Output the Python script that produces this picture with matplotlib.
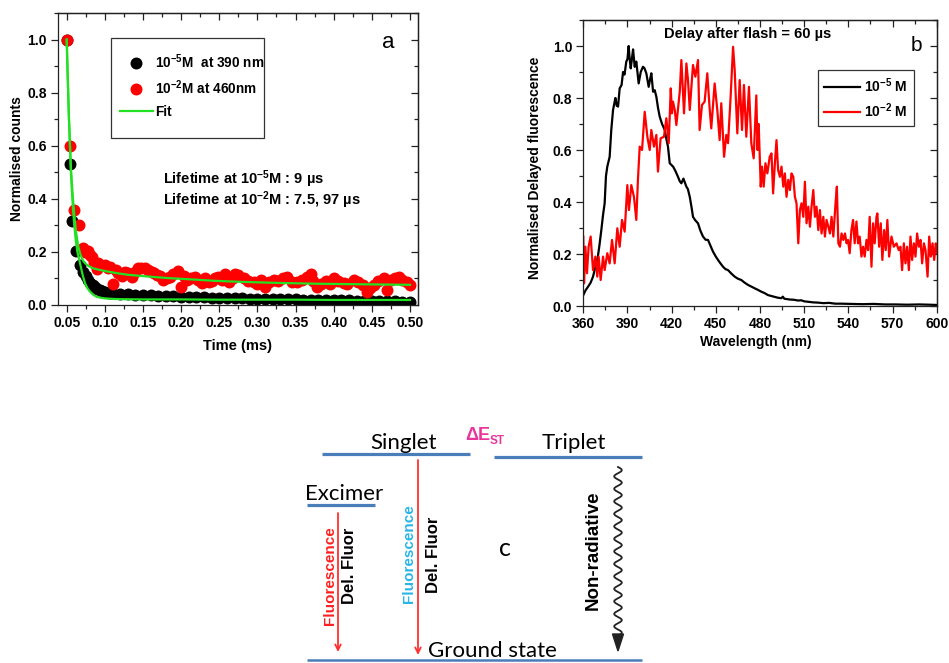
import numpy as np
import matplotlib
matplotlib.use('Agg')
import matplotlib.pyplot as plt
from matplotlib.lines import Line2D
from matplotlib.patches import Rectangle, Polygon
from matplotlib.ticker import MultipleLocator, FormatStrFormatter

plt.rcParams['font.family'] = ['Liberation Sans', 'DejaVu Sans']
plt.rcParams['font.weight'] = 'bold'
plt.rcParams['mathtext.fontset'] = 'custom'
plt.rcParams['mathtext.rm'] = 'Liberation Sans:bold'
plt.rcParams['mathtext.it'] = 'Liberation Sans:bold'
plt.rcParams['mathtext.bf'] = 'Liberation Sans:bold'
plt.rcParams['axes.linewidth'] = 0.9

# ---------------- Panel a data ----------------
black_t = [0.050, 0.0543, 0.0566, 0.0622, 0.0675, 0.0718, 0.075, 0.078, 0.081, 0.084,
           0.087, 0.090, 0.093, 0.096, 0.100, 0.105, 0.110, 0.120, 0.130, 0.140,
           0.150, 0.160, 0.170, 0.180, 0.190, 0.200, 0.210, 0.220, 0.230, 0.240,
           0.250, 0.260, 0.270, 0.280, 0.290, 0.300, 0.310, 0.320, 0.330, 0.340,
           0.350, 0.360, 0.370, 0.380, 0.390, 0.400, 0.410, 0.420, 0.430, 0.440,
           0.450, 0.460, 0.470, 0.480, 0.490, 0.500]
black_v = [1.0, 0.532, 0.318, 0.205, 0.151, 0.124, 0.108, 0.094, 0.083, 0.074,
           0.067, 0.061, 0.056, 0.052, 0.048, 0.046, 0.044, 0.042, 0.040, 0.039,
           0.038, 0.036, 0.035, 0.034, 0.033, 0.032, 0.031, 0.030, 0.029, 0.028,
           0.027, 0.026, 0.026, 0.025, 0.024, 0.024, 0.023, 0.022, 0.022, 0.021,
           0.021, 0.020, 0.019, 0.019, 0.018, 0.018, 0.017, 0.017, 0.016, 0.016,
           0.015, 0.015, 0.014, 0.014, 0.013, 0.012]

red_t = [0.050, 0.0543, 0.0596, 0.0661, 0.0718, 0.074, 0.0784, 0.081, 0.0828, 0.086,
         0.0894, 0.0915, 0.095, 0.1003, 0.104, 0.1068, 0.1112, 0.114, 0.1177, 0.122,
         0.1265, 0.131, 0.1353, 0.140, 0.144, 0.148, 0.1528, 0.157, 0.1615, 0.165,
         0.1681, 0.172, 0.1768, 0.181, 0.1856, 0.190, 0.1956, 0.200, 0.204, 0.2075,
         0.213, 0.2184, 0.222, 0.2272, 0.231, 0.2359, 0.241, 0.245, 0.2489, 0.254,
         0.258, 0.2621, 0.268, 0.270, 0.2752, 0.282, 0.288, 0.2949, 0.300, 0.305,
         0.3102, 0.315, 0.3211, 0.327, 0.333, 0.3387, 0.345, 0.3518, 0.358, 0.3649,
         0.370, 0.373, 0.378, 0.384, 0.390, 0.395, 0.3999, 0.405, 0.413, 0.418,
         0.4261, 0.432, 0.438, 0.4437, 0.448, 0.4524, 0.458, 0.4655, 0.4699, 0.475,
         0.480, 0.4852, 0.490, 0.4962, 0.5005]
red_v = [1.0, 0.600, 0.357, 0.303, 0.214, 0.200, 0.205, 0.190, 0.182, 0.160,
         0.134, 0.157, 0.150, 0.151, 0.140, 0.145, 0.079, 0.130, 0.120, 0.110,
         0.126, 0.120, 0.107, 0.125, 0.138, 0.140, 0.138, 0.130, 0.126, 0.120,
         0.113, 0.110, 0.094, 0.100, 0.107, 0.115, 0.129, 0.067, 0.110, 0.094,
         0.100, 0.104, 0.095, 0.082, 0.100, 0.088, 0.090, 0.100, 0.107, 0.095,
         0.115, 0.088, 0.100, 0.115, 0.113, 0.100, 0.090, 0.088, 0.080, 0.095,
         0.069, 0.085, 0.094, 0.090, 0.100, 0.107, 0.085, 0.088, 0.095, 0.107,
         0.115, 0.090, 0.069, 0.080, 0.090, 0.080, 0.101, 0.090, 0.082, 0.080,
         0.094, 0.085, 0.075, 0.050, 0.065, 0.075, 0.090, 0.101, 0.057, 0.095,
         0.100, 0.107, 0.095, 0.088, 0.075]

fit5_t = [0.050, 0.051, 0.052, 0.053, 0.0543, 0.0555, 0.057, 0.0585, 0.060, 0.062,
          0.064, 0.0675, 0.071, 0.074, 0.0775, 0.0806, 0.085, 0.0894, 0.095, 0.100,
          0.110, 0.120, 0.150, 0.200, 0.250, 0.300, 0.350, 0.400, 0.450, 0.500]
fit5_v = [1.0, 0.90, 0.80, 0.70, 0.60, 0.50, 0.42, 0.35, 0.30, 0.24,
          0.20, 0.157, 0.112, 0.082, 0.062, 0.050, 0.038, 0.031, 0.027, 0.025,
          0.023, 0.022, 0.021, 0.021, 0.020, 0.020, 0.020, 0.019, 0.019, 0.019]

fit2_t = [0.050, 0.051, 0.052, 0.053, 0.0543, 0.0555, 0.057, 0.0585, 0.060, 0.062,
          0.0652, 0.068, 0.0718, 0.075, 0.078, 0.0849, 0.092, 0.100, 0.1156, 0.130,
          0.145, 0.162, 0.185, 0.210, 0.245, 0.280, 0.330, 0.380, 0.440, 0.500]
fit2_v = [1.0, 0.89, 0.79, 0.70, 0.60, 0.52, 0.45, 0.39, 0.34, 0.28,
          0.22, 0.19, 0.165, 0.155, 0.148, 0.138, 0.133, 0.128, 0.120, 0.114,
          0.110, 0.106, 0.101, 0.097, 0.091, 0.087, 0.083, 0.080, 0.078, 0.076]

time_ticks = [0.05, 0.10, 0.15, 0.20, 0.25, 0.30, 0.35, 0.40, 0.45, 0.50]
norm_ticks = [0.0, 0.2, 0.4, 0.6, 0.8, 1.0]

legend_a_labels = ['10$^{-5}$M  at 390 nm', '10$^{-2}$M at 460nm', 'Fit']
lifetime_lines = ['Lifetime at 10$^{-5}$M : 9 \u00b5s', 'Lifetime at 10$^{-2}$M : 7.5, 97 \u00b5s']

# ---------------- Panel b data ----------------
wl_5 = [360, 361.5, 363.2, 365, 366.6, 368.2, 369.9, 371, 372.2, 373.4,
        374.5, 375.4, 376.3, 377.9, 379, 380.2, 381.1, 381.8, 382.7, 383.6,
        384.7, 386, 387, 388, 389.2, 390, 390.8, 391.5, 392.2, 393,
        393.8, 394.9, 396, 397.6, 399, 400.5, 401.5, 402.8, 404.4, 405.3,
        406.2, 407.4, 408.5, 409.6, 410.8, 411.9, 413.5, 415.3, 416.5, 417.5,
        418.7, 421, 422.5, 424.3, 425.5, 426.6, 428, 430, 431, 432.3,
        433.5, 434.5, 436, 437.9, 439.5, 441.3, 443, 444.7, 446.5, 448.1,
        450, 451.5, 453, 454.9, 456.5, 458.3, 460.5, 462.8, 465, 467.3,
        469.5, 471.9, 474, 476.4, 478.6, 480.9, 483, 485.4, 488, 490,
        492, 494.5, 495.5, 496.5, 500, 503, 505.8, 508, 510, 513,
        516, 519.4, 523, 527, 531, 535, 542, 550, 557, 565,
        572, 580, 588, 595, 600]
fl_5 = [0.042, 0.060, 0.074, 0.090, 0.113, 0.150, 0.190, 0.235, 0.290, 0.350,
        0.395, 0.500, 0.536, 0.574, 0.677, 0.754, 0.780, 0.800, 0.770, 0.767,
        0.837, 0.850, 0.900, 0.890, 0.940, 0.950, 1.000, 0.950, 0.914, 0.950,
        0.987, 0.920, 0.940, 0.856, 0.900, 0.920, 0.915, 0.895, 0.843, 0.870,
        0.895, 0.824, 0.830, 0.805, 0.760, 0.728, 0.700, 0.677, 0.640, 0.613,
        0.549, 0.536, 0.520, 0.497, 0.480, 0.472, 0.490, 0.459, 0.450, 0.420,
        0.380, 0.343, 0.330, 0.318, 0.290, 0.267, 0.255, 0.254, 0.230, 0.209,
        0.190, 0.177, 0.165, 0.151, 0.142, 0.138, 0.125, 0.113, 0.105, 0.100,
        0.090, 0.081, 0.075, 0.068, 0.062, 0.055, 0.050, 0.042, 0.038, 0.035,
        0.032, 0.030, 0.036, 0.028, 0.025, 0.024, 0.021, 0.022, 0.018, 0.016,
        0.014, 0.013, 0.011, 0.012, 0.009, 0.009, 0.008, 0.007, 0.008, 0.006,
        0.006, 0.005, 0.006, 0.005, 0.004]

wl_2 = [360, 360.5, 361.4, 362.5, 363.6, 365, 366.6, 368.2, 369.5, 370.4,
        371.8, 373.4, 374.5, 376.3, 377.9, 379.5, 381.3, 383.1, 384.7, 386.3,
        388.1, 389.9, 391, 392.6, 394.4, 396, 397.1, 398.3, 399.9, 401.7,
        403.5, 405.1, 406.2, 408, 409.6, 410.7, 412.5, 414.8, 416.4, 418,
        419.4, 420.2, 420.9, 422.1, 423.2, 425.5, 426.6, 428.4, 430, 431.1,
        432.3, 434.5, 436.1, 437.9, 439, 440.6, 442.4, 444.2, 445.8, 446.9,
        449.2, 451, 452.6, 453.7, 455.6, 457.1, 458.3, 460.1, 461.7, 462.8,
        464.6, 466.2, 467.8, 469.1, 470.7, 472.5, 474.1, 475.7, 477.5, 478.3,
        479.1, 480.5, 481.4, 482.5, 483.7, 485, 486.6, 487.8, 488.9, 490.1,
        491.2, 492.3, 493.5, 494.6, 495.8, 496.9, 498, 499.2, 500.3, 501.4,
        502.6, 503.7, 504.8, 506, 507.1, 508.2, 509.4, 510.5, 511.6, 512.8,
        513.9, 515, 516.2, 517.3, 518.4, 519.6, 520.7, 521.8, 523, 524.1,
        525.2, 526.4, 527.5, 528.6, 529.8, 531.3, 532.2, 533.2, 534.3, 535.4,
        536.6, 537.7, 538.8, 539.8, 540.9, 542.1, 543.2, 544.3, 545.5, 546.6,
        547.7, 548.9, 550, 551.1, 552.3, 553.4, 554.5, 555.7, 556.8, 557.9,
        559.1, 559.7, 560.9, 562, 563.1, 564.3, 565.4, 566.5, 567.7, 569.3,
        570.9, 572.7, 574.2, 575.4, 576.5, 577.7, 578.8, 579.9, 581.1, 582.2,
        583.3, 584.5, 585.6, 586.7, 587.9, 589, 590.1, 591.3, 592.4, 593.8,
        594.9, 596, 597.2, 598.3, 599.4, 600]
fl_2 = [0.267, 0.087, 0.228, 0.126, 0.228, 0.267, 0.138, 0.190, 0.113, 0.190,
        0.100, 0.190, 0.138, 0.203, 0.164, 0.254, 0.164, 0.299, 0.228, 0.331,
        0.286, 0.465, 0.369, 0.465, 0.420, 0.331, 0.485, 0.613, 0.600, 0.747,
        0.651, 0.600, 0.677, 0.613, 0.658, 0.517, 0.645, 0.651, 0.722, 0.626,
        0.837, 0.741, 0.786, 0.754, 0.696, 0.824, 0.946, 0.741, 0.933, 0.869,
        0.754, 0.927, 0.882, 0.946, 0.677, 0.773, 0.786, 0.895, 0.760, 0.683,
        0.856, 0.754, 0.638, 0.780, 0.574, 0.658, 0.626, 0.810, 0.997, 0.908,
        0.664, 0.869, 0.677, 0.850, 0.651, 0.843, 0.626, 0.568, 0.810, 0.600,
        0.700, 0.459, 0.536, 0.459, 0.549, 0.510, 0.574, 0.587, 0.433, 0.549,
        0.638, 0.523, 0.497, 0.536, 0.459, 0.510, 0.420, 0.485, 0.446, 0.510,
        0.497, 0.420, 0.395, 0.241, 0.369, 0.395, 0.343, 0.478, 0.318, 0.382,
        0.305, 0.382, 0.446, 0.343, 0.382, 0.292, 0.369, 0.279, 0.343, 0.267,
        0.331, 0.305, 0.279, 0.343, 0.267, 0.395, 0.459, 0.241, 0.228, 0.279,
        0.254, 0.279, 0.241, 0.254, 0.203, 0.292, 0.331, 0.241, 0.325, 0.241,
        0.267, 0.190, 0.228, 0.190, 0.254, 0.215, 0.343, 0.151, 0.318, 0.241,
        0.343, 0.356, 0.228, 0.318, 0.177, 0.292, 0.215, 0.331, 0.190, 0.267,
        0.228, 0.241, 0.215, 0.228, 0.138, 0.241, 0.164, 0.228, 0.138, 0.267,
        0.177, 0.241, 0.190, 0.279, 0.228, 0.254, 0.164, 0.241, 0.215, 0.113,
        0.267, 0.190, 0.241, 0.177, 0.241, 0.203]

wl_ticks = [360, 390, 420, 450, 480, 510, 540, 570, 600]
legend_b_labels = ['10$^{-5}$ M', '10$^{-2}$ M']
delay_text = 'Delay after flash = 60 \u00b5s'

# ---------------- figure ----------------
W, H = 949, 663
fig = plt.figure(figsize=(W / 100, H / 100), dpi=100)


def style_axes(ax, xmajor, xminor, ymajor, yminor, xfmt, yfmt):
    ax.xaxis.set_major_locator(MultipleLocator(xmajor))
    ax.xaxis.set_minor_locator(MultipleLocator(xminor))
    ax.yaxis.set_major_locator(MultipleLocator(ymajor))
    ax.yaxis.set_minor_locator(MultipleLocator(yminor))
    ax.xaxis.set_major_formatter(FormatStrFormatter(xfmt))
    ax.yaxis.set_major_formatter(FormatStrFormatter(yfmt))
    ax.tick_params(which='both', direction='out', top=False, right=False,
                   labelsize=10, width=0.9, colors='#222222', labelcolor='black')
    ax.tick_params(which='major', length=5, pad=3)
    ax.tick_params(which='minor', length=3)
    for lab in ax.get_xticklabels() + ax.get_yticklabels():
        lab.set_fontweight('bold')
    for sp in ax.spines.values():
        sp.set_color('#222222')
    # top / right ticks pointing inward
    secx = ax.secondary_xaxis('top')
    secx.xaxis.set_major_locator(MultipleLocator(xmajor))
    secx.xaxis.set_minor_locator(MultipleLocator(xminor))
    secx.tick_params(which='both', direction='in', labeltop=False, width=0.9, colors='#222222')
    secx.tick_params(which='major', length=5)
    secx.tick_params(which='minor', length=3)
    secy = ax.secondary_yaxis('right')
    secy.yaxis.set_major_locator(MultipleLocator(ymajor))
    secy.yaxis.set_minor_locator(MultipleLocator(yminor))
    secy.tick_params(which='both', direction='in', labelright=False, width=0.9, colors='#222222')
    secy.tick_params(which='major', length=5)
    secy.tick_params(which='minor', length=3)


# ---- Panel a ----
axa = fig.add_axes([58 / W, 1 - 305 / H, 360 / W, 292 / H])
axa.plot(black_t, black_v, 'o', color='black', ms=8.6, mec='none', zorder=2)
axa.plot(red_t, red_v, 'o', color='#ff0000', ms=8.6, mec='none', zorder=3)
axa.plot(fit5_t, fit5_v, '-', color='#22e022', lw=1.6, zorder=4)
axa.plot(fit2_t, fit2_v, '-', color='#22e022', lw=1.6, zorder=4)
axa.set_xlim(0.0386, 0.5105)
axa.set_ylim(0, 1.1)
style_axes(axa, 0.05, 0.025, 0.2, 0.1, '%.2f', '%.1f')
axa.set_xlabel('Time (ms)', fontsize=10.5, fontweight='bold')
axa.set_ylabel('Normalised counts', fontsize=10, fontweight='bold')
axa.xaxis.set_label_coords(0.5, -0.115)
axa.yaxis.set_label_coords(-0.094, 0.5)

handles_a = [Line2D([], [], marker='o', ls='none', color='black', ms=8.6, mec='none'),
             Line2D([], [], marker='o', ls='none', color='#ff0000', ms=8.6, mec='none'),
             Line2D([], [], ls='-', color='#22e022', lw=1.6)]
axa.add_patch(Rectangle((0.147, 0.572), 0.425, 0.342, transform=axa.transAxes,
                        fill=False, edgecolor='#333333', lw=0.9, zorder=5))
leg = axa.legend(handles_a, legend_a_labels, loc='upper left', bbox_to_anchor=(0.172, 0.865),
                 frameon=False, fontsize=9.8, handlelength=2.4, handletextpad=0.2,
                 labelspacing=0.55, borderaxespad=0, borderpad=0)
for t in leg.get_texts():
    t.set_fontweight('bold')
axa.text(0.292, 0.432, lifetime_lines[0], transform=axa.transAxes, fontsize=10.5,
         fontweight='bold', va='center', ha='left')
axa.text(0.292, 0.358, lifetime_lines[1], transform=axa.transAxes, fontsize=10.5,
         fontweight='bold', va='center', ha='left')
axa.text(0.917, 0.898, 'a', transform=axa.transAxes, fontsize=16, fontweight='normal',
         ha='center', va='center')

# ---- Panel b ----
axb = fig.add_axes([583.3 / W, 1 - 306 / H, 353.4 / W, 286 / H])
axb.plot(wl_5, fl_5, '-', color='black', lw=1.6, label=legend_b_labels[0])
axb.plot(wl_2, fl_2, '-', color='#ff0000', lw=1.6, label=legend_b_labels[1])
axb.set_xlim(360, 600)
axb.set_ylim(0, 1.1)
style_axes(axb, 30, 15, 0.2, 0.1, '%d', '%.1f')
axb.set_xlabel('Wavelength (nm)', fontsize=10, fontweight='bold')
axb.set_ylabel('Normalised Delayed fluorescence', fontsize=10, fontweight='bold')
axb.xaxis.set_label_coords(0.488, -0.1)
axb.yaxis.set_label_coords(-0.116, 0.484)
legb = axb.legend(loc='upper left', bbox_to_anchor=(0.664, 0.825), frameon=True, fancybox=False,
                  fontsize=10, handlelength=2.6, handletextpad=0.3, borderaxespad=0,
                  labelspacing=0.45, borderpad=0.45)
legb.get_frame().set_edgecolor('black')
legb.get_frame().set_linewidth(0.9)
for t in legb.get_texts():
    t.set_fontweight('bold')
axb.text(0.466, 0.95, delay_text, transform=axb.transAxes, fontsize=10.5, fontweight='bold',
         ha='center', va='center')
axb.text(0.942, 0.912, 'b', transform=axb.transAxes, fontsize=15, fontweight='normal',
         ha='center', va='center')

# ---- Panel c (energy diagram, pixel coordinates) ----
axc = fig.add_axes([0, 0, 1, 1])
axc.set_xlim(0, W)
axc.set_ylim(H, 0)
axc.axis('off')

level_color = '#4a7ebb'
levels = {'singlet': (322, 470, 454), 'triplet': (494, 642, 457),
          'excimer': (307, 375, 505), 'ground': (307, 642, 660)}
for name, (x0, x1, y) in levels.items():
    axc.plot([x0, x1], [y, y], color=level_color, lw=2.3 if name != 'ground' else 1.8,
             solid_capstyle='butt')

diag_font = 'Lato'
axc.text(370, 449, 'Singlet', fontsize=16, family=diag_font, fontweight='normal', va='baseline')
axc.text(542, 449, 'Triplet', fontsize=16, family=diag_font, fontweight='normal', va='baseline')
axc.text(305, 500, 'Excimer', fontsize=16, family=diag_font, fontweight='normal', va='baseline')
axc.text(428, 657, 'Ground state', fontsize=16, family=diag_font, fontweight='normal', va='baseline')
axc.text(465, 440, '\u0394E', fontsize=13, color='#e8369a', fontweight='bold', va='baseline')
axc.text(490, 444, 'ST', fontsize=8.5, color='#e8369a', fontweight='bold', va='baseline')
axc.text(505, 548, 'c', fontsize=18, family=diag_font, fontweight='normal', ha='center', va='center')

arrow_red = '#ff3030'
axc.annotate('', xy=(338, 652), xytext=(338, 513),
             arrowprops=dict(arrowstyle='->', color=arrow_red, lw=1.3, shrinkA=0, shrinkB=0,
                             mutation_scale=10))
axc.annotate('', xy=(418, 655), xytext=(418, 460),
             arrowprops=dict(arrowstyle='->', color=arrow_red, lw=1.3, shrinkA=0, shrinkB=0,
                             mutation_scale=10))

axc.text(330, 576, 'Fluorescence', rotation=90, color='#ff2020', fontsize=11,
         fontweight='bold', ha='center', va='center')
axc.text(350, 566, 'Del. Fluor', rotation=90, color='black', fontsize=12,
         fontweight='bold', ha='center', va='center')
axc.text(409, 554, 'Fluorescence', rotation=90, color='#29b6e8', fontsize=11,
         fontweight='bold', ha='center', va='center')
axc.text(434, 555, 'Del. Fluor', rotation=90, color='black', fontsize=12,
         fontweight='bold', ha='center', va='center')
axc.text(593, 550, 'Non-radiative', rotation=90, color='black', fontsize=13.5,
         fontweight='bold', ha='center', va='center')

# wavy non-radiative arrow (decorative shape)
wy = np.linspace(467, 636, 400)
wx = 618 + 3.8 * np.sin(2 * np.pi * (wy - 467) / 12.5)
axc.plot(wx, wy, color='#222222', lw=1.3)
axc.add_patch(Polygon([[612.5, 634], [623.5, 634], [618, 651]], closed=True,
                      color='#222222'))

fig.savefig('out.png', dpi=100)
